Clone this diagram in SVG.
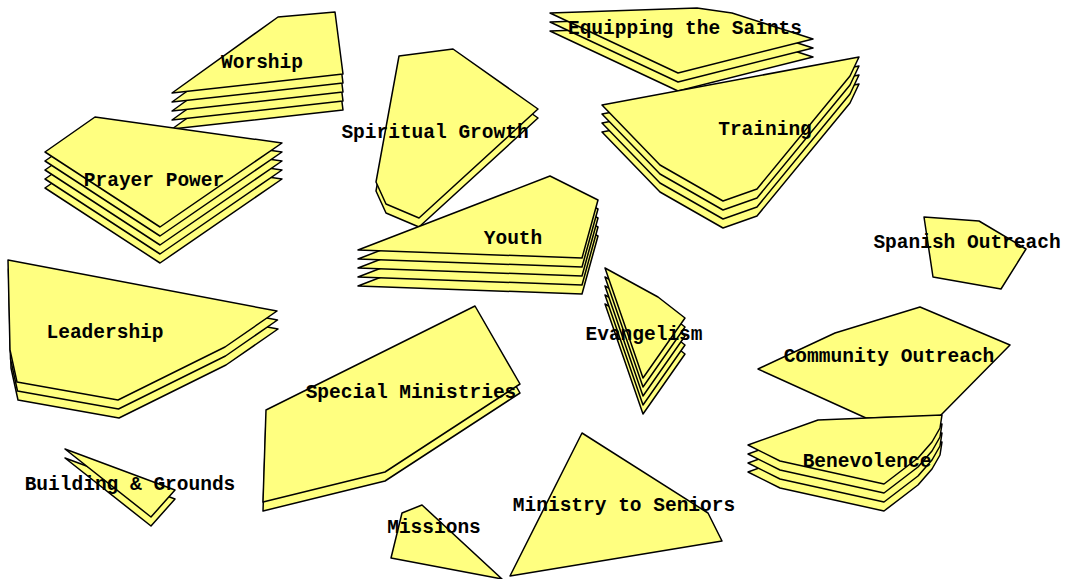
<svg xmlns="http://www.w3.org/2000/svg" xmlns:xlink="http://www.w3.org/1999/xlink" width="1068" height="579" viewBox="0 0 1068 579">
<style>
.s{fill:#ffff80;stroke:#000;stroke-width:1.5;stroke-linejoin:round}
.t{font-family:"Liberation Mono","Courier New",monospace;font-weight:bold;font-size:19.5px;fill:#000;text-anchor:middle}
</style>
<defs>
<polygon id="pWor" class="s" points="172,93 278,17 335,12 343,74"/>
<polygon id="pPra" class="s" points="45,152 95,117 282,143 160,227"/>
<polygon id="pLea" class="s" points="8,260 277,311 225,347 118,400 17,382 10,350"/>
<polygon id="pSpi" class="s" points="399,56 453,49 538,109 419,218 386,204 376,182"/>
<polygon id="pEqu" class="s" points="550,13 697,8 732,13 813,39 678,73"/>
<polygon id="pTra" class="s" points="602,105 859,57 850,76 757,189 723,201 660,165"/>
<polygon id="pYou" class="s" points="358,250 550,176 598,200 582,258"/>
<polygon id="pEva" class="s" points="605,268 658,297 685,318 643,378"/>
<polygon id="pBen" class="s" points="748,445 818,420 942,415 940,428 932,442 918,458 884,484 780,461"/>
<polygon id="pSpe" class="s" points="266,410 475,306 520,384 385,472 263,502"/>
<polygon id="pBui" class="s" points="65,449 175,490 151,517"/>
</defs>
<g id="worship">
<use xlink:href="#pWor" transform="translate(0,36)"/>
<use xlink:href="#pWor" transform="translate(0,27)"/>
<use xlink:href="#pWor" transform="translate(0,18)"/>
<use xlink:href="#pWor" transform="translate(0,9)"/>
<use xlink:href="#pWor"/>
<text class="t" x="262" y="68">Worship</text>
</g>
<g id="prayer-power">
<use xlink:href="#pPra" transform="translate(0,36)"/>
<use xlink:href="#pPra" transform="translate(0,27)"/>
<use xlink:href="#pPra" transform="translate(0,18)"/>
<use xlink:href="#pPra" transform="translate(0,9)"/>
<use xlink:href="#pPra"/>
<text class="t" x="154" y="186">Prayer Power</text>
</g>
<g id="leadership">
<use xlink:href="#pLea" transform="translate(1,18)"/>
<use xlink:href="#pLea" transform="translate(0.5,9)"/>
<use xlink:href="#pLea"/>
<text class="t" x="105" y="338">Leadership</text>
</g>
<g id="spiritual-growth">
<use xlink:href="#pSpi" transform="translate(0,9)"/>
<use xlink:href="#pSpi"/>
<text class="t" x="435" y="138">Spiritual Growth</text>
</g>
<g id="equipping-the-saints">
<use xlink:href="#pEqu" transform="translate(0,18)"/>
<use xlink:href="#pEqu" transform="translate(0,9)"/>
<use xlink:href="#pEqu"/>
<text class="t" x="685" y="34">Equipping the Saints</text>
</g>
<g id="training">
<use xlink:href="#pTra" transform="translate(0,27)"/>
<use xlink:href="#pTra" transform="translate(0,18)"/>
<use xlink:href="#pTra" transform="translate(0,9)"/>
<use xlink:href="#pTra"/>
<text class="t" x="765" y="135">Training</text>
</g>
<g id="youth">
<use xlink:href="#pYou" transform="translate(0,36)"/>
<use xlink:href="#pYou" transform="translate(0,27)"/>
<use xlink:href="#pYou" transform="translate(0,18)"/>
<use xlink:href="#pYou" transform="translate(0,9)"/>
<use xlink:href="#pYou"/>
<text class="t" x="513" y="244">Youth</text>
</g>
<g id="evangelism">
<use xlink:href="#pEva" transform="translate(0,36)"/>
<use xlink:href="#pEva" transform="translate(0,27)"/>
<use xlink:href="#pEva" transform="translate(0,18)"/>
<use xlink:href="#pEva" transform="translate(0,9)"/>
<use xlink:href="#pEva"/>
<text class="t" x="644" y="340">Evangelism</text>
</g>
<g id="spanish-outreach">
<polygon class="s" points="924,217 979,221 1026,249 1001,289 933,277"/>
<text class="t" x="967" y="248">Spanish Outreach</text>
</g>
<g id="community-outreach">
<polygon class="s" points="758,369 835,333 920,307 1010,345 940,416 866,418"/>
<text class="t" x="889" y="362">Community Outreach</text>
</g>
<g id="benevolence">
<use xlink:href="#pBen" transform="translate(0,27)"/>
<use xlink:href="#pBen" transform="translate(0,18)"/>
<use xlink:href="#pBen" transform="translate(0,9)"/>
<use xlink:href="#pBen"/>
<text class="t" x="867" y="467">Benevolence</text>
</g>
<g id="special-ministries">
<use xlink:href="#pSpe" transform="translate(0,9)"/>
<use xlink:href="#pSpe"/>
<text class="t" x="411" y="398">Special Ministries</text>
</g>
<g id="building-grounds">
<use xlink:href="#pBui" transform="translate(0,9)"/>
<use xlink:href="#pBui"/>
<text class="t" x="130" y="490">Building &amp; Grounds</text>
</g>
<g id="missions">
<polygon class="s" points="402,513 422,505 502,579 391,558"/>
<text class="t" x="434" y="533">Missions</text>
</g>
<g id="ministry-to-seniors">
<polygon class="s" points="582,433 708,513 722,541 510,576"/>
<text class="t" x="624" y="511">Ministry to Seniors</text>
</g>
<g id="connectors"/>
</svg>
